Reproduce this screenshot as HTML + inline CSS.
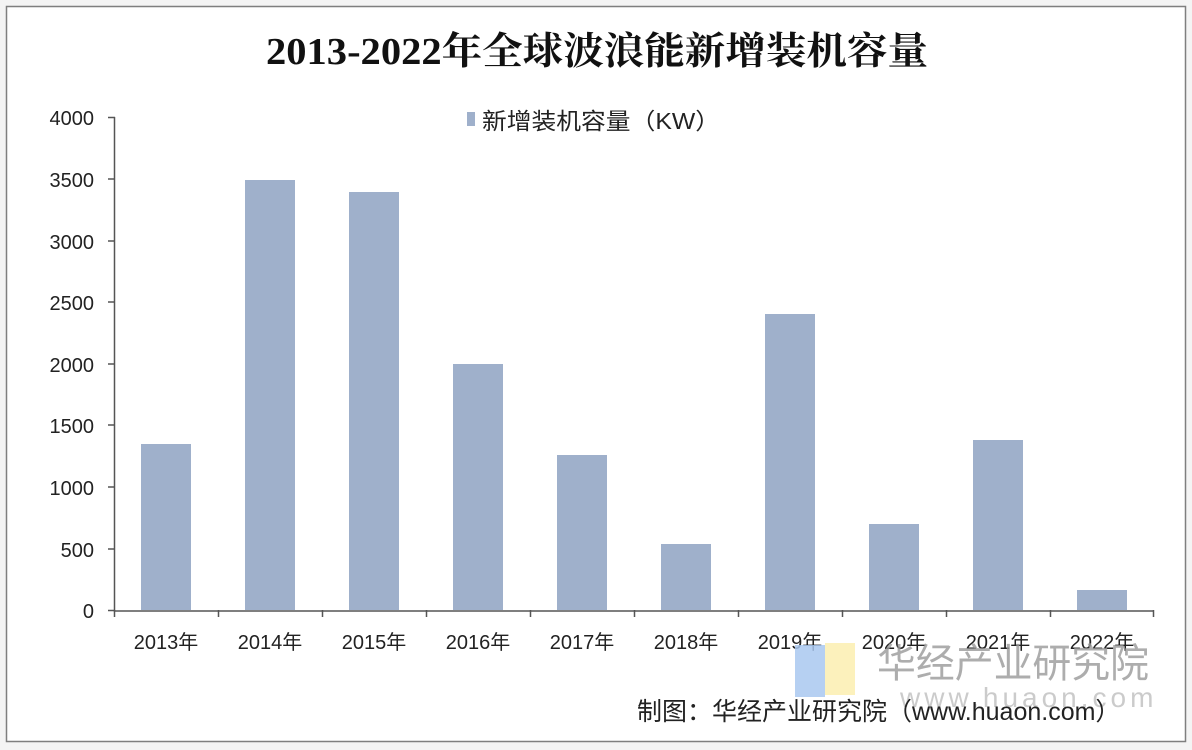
<!DOCTYPE html>
<html><head><meta charset="utf-8"><style>
html,body{margin:0;padding:0;background:#fff;}
svg{display:block}
</style></head><body>
<svg width="1192" height="750" xmlns="http://www.w3.org/2000/svg">
<rect x="0" y="0" width="1192" height="750" fill="#f4f4f4"/>
<rect x="6.5" y="6.5" width="1179" height="735" fill="#fff" stroke="#7f7f7f" stroke-width="1.5"/>
<text x="266" y="64" textLength="662" lengthAdjust="spacingAndGlyphs" font-family="'Liberation Serif','Noto Serif CJK SC',serif" font-weight="bold" font-size="38" fill="#111">2013-2022年全球波浪能新增装机容量</text>
<rect x="467" y="112" width="8" height="14" fill="#9fb0cb"/>
<text x="482" y="129" textLength="238" lengthAdjust="spacingAndGlyphs" font-family="'Liberation Sans','Noto Sans CJK SC',sans-serif" font-size="23" fill="#222">新增装机容量（KW）</text>
<g font-family="'Liberation Sans','Noto Sans CJK SC',sans-serif" font-size="20" fill="#222" text-anchor="end">
<text x="94" y="125">4000</text><text x="94" y="187">3500</text><text x="94" y="249">3000</text><text x="94" y="310">2500</text><text x="94" y="372">2000</text><text x="94" y="433">1500</text><text x="94" y="495">1000</text><text x="94" y="557">500</text><text x="94" y="618">0</text>
</g>
<g stroke="#555" stroke-width="1.5" fill="none">
<path d="M114.5 117V611H1154"/>
<path d="M108 117.5h7M108 179h7M108 241h7M108 302h7M108 364h7M108 425h7M108 487h7M108 549h7M108 610.5h7"/>
<path d="M114.5 610v7M218.5 610v7M322.5 610v7M426.5 610v7M530.5 610v7M634.5 610v7M738.5 610v7M842.5 610v7M946.5 610v7M1050.5 610v7M1153.5 610v7"/>
</g>
<g fill="#9fb0cb">
<rect x="141" y="444" width="50" height="166"/>
<rect x="245" y="180" width="50" height="430"/>
<rect x="349" y="192" width="50" height="418"/>
<rect x="453" y="364" width="50" height="246"/>
<rect x="557" y="455" width="50" height="155"/>
<rect x="661" y="544" width="50" height="66"/>
<rect x="765" y="314" width="50" height="296"/>
<rect x="869" y="524" width="50" height="86"/>
<rect x="973" y="440" width="50" height="170"/>
<rect x="1077" y="590" width="50" height="20"/>
</g>
<g font-family="'Liberation Sans','Noto Sans CJK SC',sans-serif" font-size="20" fill="#222" text-anchor="middle">
<text x="166" y="649">2013年</text><text x="270" y="649">2014年</text><text x="374" y="649">2015年</text><text x="478" y="649">2016年</text><text x="582" y="649">2017年</text><text x="686" y="649">2018年</text><text x="790" y="649">2019年</text><text x="894" y="649">2020年</text><text x="998" y="649">2021年</text><text x="1102" y="649">2022年</text>
</g>
<rect x="795" y="645" width="30" height="52" fill="#a9c8f0" opacity="0.85"/>
<rect x="825" y="643" width="30" height="52" fill="#fbeeb0" opacity="0.85"/>
<text x="877" y="677" textLength="272" lengthAdjust="spacingAndGlyphs" font-family="'Liberation Sans','Noto Sans CJK SC',sans-serif" font-size="40" fill="#999" opacity="0.8">华经产业研究院</text>
<text x="900" y="707" font-family="'Liberation Sans',sans-serif" font-size="28" fill="#aaa" opacity="0.6" letter-spacing="4">www.huaon.com</text>
<text x="637" y="720" font-family="'Liberation Sans','Noto Sans CJK SC',sans-serif" font-size="25" fill="#222">制图：华经产业研究院（www.huaon.com）</text>
</svg>
</body></html>
